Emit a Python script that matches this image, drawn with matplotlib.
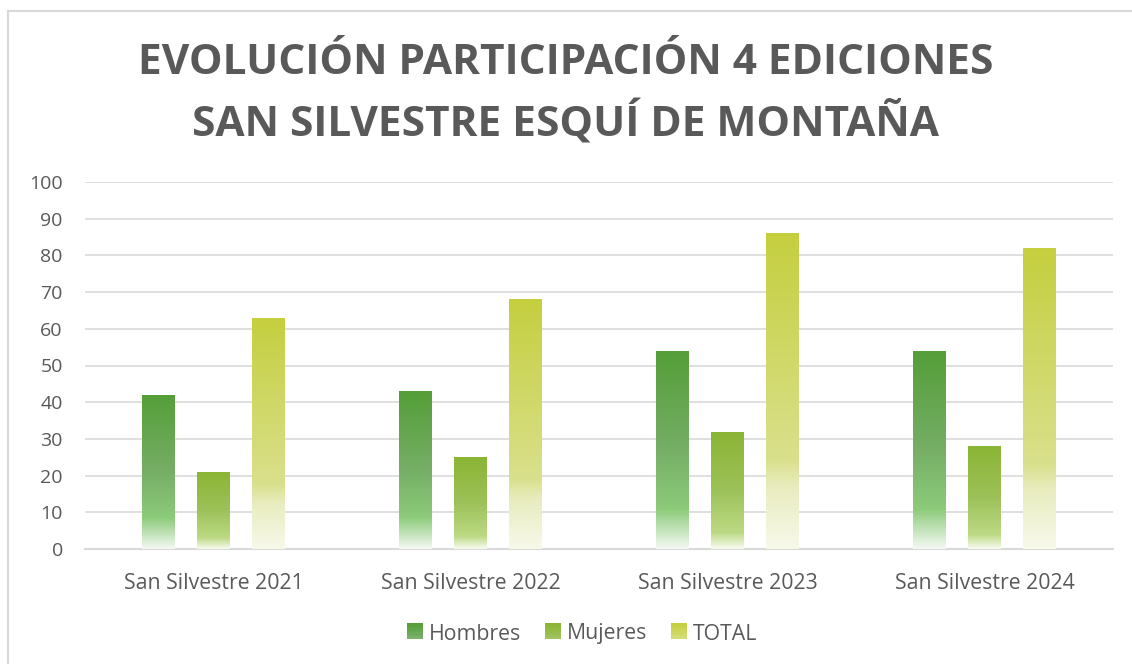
import numpy as np
import matplotlib.pyplot as plt
from matplotlib.colors import LinearSegmentedColormap
from matplotlib.lines import Line2D
from matplotlib.patches import Rectangle
from matplotlib.legend_handler import HandlerBase

categories = ['San Silvestre 2021', 'San Silvestre 2022', 'San Silvestre 2023', 'San Silvestre 2024']
series = ['Hombres', 'Mujeres', 'TOTAL']
hombres = [42, 43, 54, 54]
mujeres = [21, 25, 32, 28]
total = [63, 68, 86, 82]
values = [hombres, mujeres, total]

# gradient stops (position from bottom 0 -> top 1)
grads = [
    [(0.0, '#f4f9f3'), (0.2, '#8ccb7a'), (0.5, '#76ae66'), (1.0, '#549e38')],
    [(0.0, '#f8fbf0'), (0.14, '#bcda84'), (0.5, '#9dc159'), (1.0, '#8ab534')],
    [(0.0, '#f7f9ea'), (0.2, '#e8ecbd'), (0.28, '#d9e08c'), (1.0, '#c5cf3e')],
]
cmaps = [LinearSegmentedColormap.from_list(s, g) for s, g in zip(series, grads)]

W, H = 1132, 664
fig = plt.figure(figsize=(W / 100, H / 100), dpi=100)
fig.patch.set_facecolor('white')
fig.add_artist(Line2D([8 / W, 8 / W], [0, 1 - 11 / H], transform=fig.transFigure, color='#d9d9d9', lw=1.5))
fig.add_artist(Line2D([8 / W, 1], [1 - 11 / H, 1 - 11 / H], transform=fig.transFigure, color='#d9d9d9', lw=1.5))

ax = fig.add_axes([85 / W, 1 - 549 / H, (1113 - 85) / W, (549 - 182) / H])

width = 0.128
offsets = [-0.214, 0, 0.214]
grad = np.linspace(0, 1, 256).reshape(-1, 1)
for k in range(3):
    for i, v in enumerate(values[k]):
        x0 = i + offsets[k] - width / 2
        im = ax.imshow(grad, cmap=cmaps[k], origin='lower', aspect='auto',
                       extent=[x0, x0 + width, 0, v], zorder=3)
        r = Rectangle((x0, 0), width, v, transform=ax.transData, facecolor='none', edgecolor='none')
        ax.add_patch(r)
        im.set_clip_path(r)
ax.set_xlim(-0.5, 3.5)
ax.set_ylim(0, 100)

ax.set_yticks(range(0, 101, 10))
ax.yaxis.grid(True, color='#d9d9d9', lw=1.2, zorder=0)
ax.set_axisbelow(True)
for s in ['top', 'right', 'left']:
    ax.spines[s].set_visible(False)
ax.spines['bottom'].set_color('#d9d9d9')
ax.spines['bottom'].set_linewidth(1.5)
ax.set_xticks(range(4))
ax.set_xticklabels(categories)
ax.tick_params(axis='both', length=0, labelcolor='#595959')
ax.tick_params(axis='x', pad=17, labelsize=15.3)
ax.tick_params(axis='y', pad=16, labelsize=14)
for lab in ax.get_xticklabels() + ax.get_yticklabels():
    lab.set_family('Open Sans')

fig.text(0.5, 1 - 64 / H, 'EVOLUCIÓN PARTICIPACIÓN 4 EDICIONES', ha='center', va='center',
         fontsize=30.5, fontweight='bold', color='#595959', family='Open Sans')
fig.text(0.5, 1 - 124 / H, 'SAN SILVESTRE ESQUÍ DE MONTAÑA', ha='center', va='center',
         fontsize=30.5, fontweight='bold', color='#595959', family='Open Sans')


class GradHandler(HandlerBase):
    def __init__(self, cmap):
        super().__init__()
        self.cmap = cmap

    def create_artists(self, legend, orig, xd, yd, width, height, fontsize, trans):
        arts = []
        n = 12
        for j in range(n):
            c = self.cmap(1 - 0.6 * j / n)
            arts.append(Rectangle((xd, yd + height * (1 - (j + 1) / n)), width, height / n + 0.3,
                                  facecolor=c, edgecolor='none', transform=trans))
        return arts


handles = [Rectangle((0, 0), 1, 1) for _ in series]
leg = fig.legend(handles, series, loc='center', bbox_to_anchor=(582 / W, 1 - 634 / H), ncol=3,
                 frameon=False, handler_map={h: GradHandler(c) for h, c in zip(handles, cmaps)},
                 handlelength=0.75, handleheight=0.75, handletextpad=0.3, columnspacing=1.1,
                 prop={'family': 'Open Sans', 'size': 15.3})
for t in leg.get_texts():
    t.set_color('#595959')

fig.savefig('out.png', dpi=100)
